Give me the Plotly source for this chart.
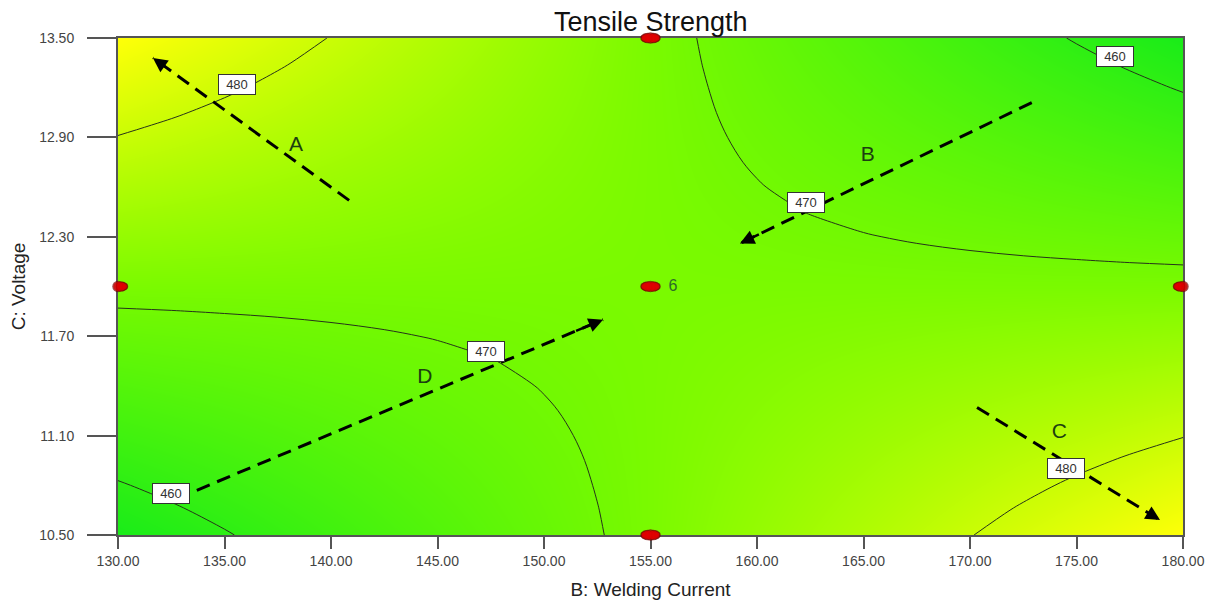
import plotly.graph_objects as go

# ---------------- data ----------------
B_vals = [130, 132.5, 135, 137.5, 140, 142.5, 145, 147.5, 150, 152.5, 155,
          157.5, 160, 162.5, 165, 167.5, 170, 172.5, 175, 177.5, 180]
C_vals = [10.5, 10.65, 10.8, 10.95, 11.1, 11.25, 11.4, 11.55, 11.7, 11.85, 12.0,
          12.15, 12.3, 12.45, 12.6, 12.75, 12.9, 13.05, 13.2, 13.35, 13.5]

# Tensile strength (rows follow C_vals, columns follow B_vals)
strength = [
    [456.85, 458.29, 459.73, 461.17, 462.61, 464.05, 465.49, 466.93, 468.37, 469.81, 471.25, 472.69, 474.13, 475.57, 477.01, 478.45, 479.89, 481.33, 482.77, 484.21, 485.65],
    [458.29, 459.59, 460.88, 462.18, 463.47, 464.77, 466.07, 467.36, 468.66, 469.95, 471.25, 472.55, 473.84, 475.14, 476.43, 477.73, 479.03, 480.32, 481.62, 482.91, 484.21],
    [459.73, 460.88, 462.03, 463.19, 464.34, 465.49, 466.64, 467.79, 468.95, 470.10, 471.25, 472.40, 473.55, 474.71, 475.86, 477.01, 478.16, 479.31, 480.47, 481.62, 482.77],
    [461.17, 462.18, 463.19, 464.19, 465.20, 466.21, 467.22, 468.23, 469.23, 470.24, 471.25, 472.26, 473.27, 474.27, 475.28, 476.29, 477.30, 478.31, 479.31, 480.32, 481.33],
    [462.61, 463.47, 464.34, 465.20, 466.07, 466.93, 467.79, 468.66, 469.52, 470.39, 471.25, 472.11, 472.98, 473.84, 474.71, 475.57, 476.43, 477.30, 478.16, 479.03, 479.89],
    [464.05, 464.77, 465.49, 466.21, 466.93, 467.65, 468.37, 469.09, 469.81, 470.53, 471.25, 471.97, 472.69, 473.41, 474.13, 474.85, 475.57, 476.29, 477.01, 477.73, 478.45],
    [465.49, 466.07, 466.64, 467.22, 467.79, 468.37, 468.95, 469.52, 470.10, 470.67, 471.25, 471.83, 472.40, 472.98, 473.55, 474.13, 474.71, 475.28, 475.86, 476.43, 477.01],
    [466.93, 467.36, 467.79, 468.23, 468.66, 469.09, 469.52, 469.95, 470.39, 470.82, 471.25, 471.68, 472.11, 472.55, 472.98, 473.41, 473.84, 474.27, 474.71, 475.14, 475.57],
    [468.37, 468.66, 468.95, 469.23, 469.52, 469.81, 470.10, 470.39, 470.67, 470.96, 471.25, 471.54, 471.83, 472.11, 472.40, 472.69, 472.98, 473.27, 473.55, 473.84, 474.13],
    [469.81, 469.95, 470.10, 470.24, 470.39, 470.53, 470.67, 470.82, 470.96, 471.11, 471.25, 471.39, 471.54, 471.68, 471.83, 471.97, 472.11, 472.26, 472.40, 472.55, 472.69],
    [471.25, 471.25, 471.25, 471.25, 471.25, 471.25, 471.25, 471.25, 471.25, 471.25, 471.25, 471.25, 471.25, 471.25, 471.25, 471.25, 471.25, 471.25, 471.25, 471.25, 471.25],
    [472.69, 472.55, 472.40, 472.26, 472.11, 471.97, 471.83, 471.68, 471.54, 471.39, 471.25, 471.11, 470.96, 470.82, 470.67, 470.53, 470.39, 470.24, 470.10, 469.95, 469.81],
    [474.13, 473.84, 473.55, 473.27, 472.98, 472.69, 472.40, 472.11, 471.83, 471.54, 471.25, 470.96, 470.67, 470.39, 470.10, 469.81, 469.52, 469.23, 468.95, 468.66, 468.37],
    [475.57, 475.14, 474.71, 474.27, 473.84, 473.41, 472.98, 472.55, 472.11, 471.68, 471.25, 470.82, 470.39, 469.95, 469.52, 469.09, 468.66, 468.23, 467.79, 467.36, 466.93],
    [477.01, 476.43, 475.86, 475.28, 474.71, 474.13, 473.55, 472.98, 472.40, 471.83, 471.25, 470.67, 470.10, 469.52, 468.95, 468.37, 467.79, 467.22, 466.64, 466.07, 465.49],
    [478.45, 477.73, 477.01, 476.29, 475.57, 474.85, 474.13, 473.41, 472.69, 471.97, 471.25, 470.53, 469.81, 469.09, 468.37, 467.65, 466.93, 466.21, 465.49, 464.77, 464.05],
    [479.89, 479.03, 478.16, 477.30, 476.43, 475.57, 474.71, 473.84, 472.98, 472.11, 471.25, 470.39, 469.52, 468.66, 467.79, 466.93, 466.07, 465.20, 464.34, 463.47, 462.61],
    [481.33, 480.32, 479.31, 478.31, 477.30, 476.29, 475.28, 474.27, 473.27, 472.26, 471.25, 470.24, 469.23, 468.23, 467.22, 466.21, 465.20, 464.19, 463.19, 462.18, 461.17],
    [482.77, 481.62, 480.47, 479.31, 478.16, 477.01, 475.86, 474.71, 473.55, 472.40, 471.25, 470.10, 468.95, 467.79, 466.64, 465.49, 464.34, 463.19, 462.03, 460.88, 459.73],
    [484.21, 482.91, 481.62, 480.32, 479.03, 477.73, 476.43, 475.14, 473.84, 472.55, 471.25, 469.95, 468.66, 467.36, 466.07, 464.77, 463.47, 462.18, 460.88, 459.59, 458.29],
    [485.65, 484.21, 482.77, 481.33, 479.89, 478.45, 477.01, 475.57, 474.13, 472.69, 471.25, 469.81, 468.37, 466.93, 465.49, 464.05, 462.61, 461.17, 459.73, 458.29, 456.85],
]

contour_levels = [460, 470, 480]

# contour labels
clabel_val = [480, 460, 470, 470, 460, 480]
clabel_B = [135.6, 176.8, 162.3, 147.3, 132.5, 174.5]
clabel_C = [13.22, 13.39, 12.51, 11.61, 10.75, 10.90]

# design points
design_B = [130, 155, 155, 155, 180]
design_C = [12.0, 13.5, 12.0, 10.5, 12.0]
center_count = "6"

# dashed arrows
arrow_names = ["A", "B", "C", "D"]
arrow_tail_B = [140.85, 172.9, 170.33, 133.7]
arrow_tail_C = [12.52, 13.11, 11.27, 10.77]
arrow_head_B = [131.64, 159.2, 178.92, 152.77]
arrow_head_C = [13.38, 12.26, 10.59, 11.80]
arrow_label_B = [138.36, 165.2, 174.2, 144.4]
arrow_label_C = [12.85, 12.79, 11.12, 11.45]

x_ticks = [130, 135, 140, 145, 150, 155, 160, 165, 170, 175, 180]
y_ticks = [10.5, 11.1, 11.7, 12.3, 12.9, 13.5]

# ---------------- style ----------------
FONT = "Arial, Liberation Sans, sans-serif"
PAGE_OFF = 8                      # default body margin of the page
W, H = 1213 - PAGE_OFF, 605 - PAGE_OFF
ML, MR, MT, MB = 118 - PAGE_OFF, 30, 38 - PAGE_OFF, 70
px_per_B = (W - ML - MR) / (x_ticks[-1] - x_ticks[0])
plot_h = H - MT - MB

fig = go.Figure()

fig.add_trace(go.Heatmap(
    x=B_vals, y=C_vals, z=strength, zsmooth="best",
    zmin=456.85, zmax=485.65,
    colorscale=[[0, "rgb(25,236,25)"], [0.5, "rgb(122,250,0)"], [1, "rgb(255,255,8)"]],
    showscale=False, hoverinfo="skip",
))

fig.add_trace(go.Contour(
    x=B_vals, y=C_vals, z=strength,
    contours=dict(start=contour_levels[0], end=contour_levels[-1],
                  size=contour_levels[1] - contour_levels[0], coloring="none"),
    line=dict(color="#26331a", width=1, smoothing=1.0),
    showscale=False, hoverinfo="skip",
))

# dashed arrow shafts
for i in range(len(arrow_names)):
    fig.add_trace(go.Scatter(
        x=[arrow_tail_B[i], arrow_head_B[i]], y=[arrow_tail_C[i], arrow_head_C[i]],
        mode="lines", line=dict(color="black", width=3, dash="14px,8px"),
        hoverinfo="skip", showlegend=False,
    ))

# arrow letters
fig.add_trace(go.Scatter(
    x=arrow_label_B, y=arrow_label_C, text=arrow_names, mode="text",
    textfont=dict(family=FONT, size=21, color="#1c3f10"),
    hoverinfo="skip", showlegend=False,
))

# design point ellipses (built from several overlapping circles)
offs_px = [-6.75, -5, -3, 0, 3, 5, 6.75]
rad_px = [2.25, 3.45, 4.15, 4.5, 4.15, 3.45, 2.25]
for color, extra in (("#7a0000", 1.2), ("#e30000", 0.0)):
    xs, ys, ss = [], [], []
    for b, c in zip(design_B, design_C):
        for o, r in zip(offs_px, rad_px):
            xs.append(b + o / px_per_B)
            ys.append(c)
            ss.append(2 * r + 2 * extra)
    fig.add_trace(go.Scatter(
        x=xs, y=ys, mode="markers",
        marker=dict(size=ss, color=color, line=dict(width=0)),
        cliponaxis=False, hoverinfo="skip", showlegend=False,
    ))

# count at centre point
fig.add_trace(go.Scatter(
    x=[design_B[2] + 0.85], y=[design_C[2]], text=[center_count], mode="text",
    textposition="middle right",
    textfont=dict(family=FONT, size=16, color="#2e6a2a"),
    cliponaxis=False, hoverinfo="skip", showlegend=False,
))

annotations = []
# contour label boxes
for v, b, c in zip(clabel_val, clabel_B, clabel_C):
    annotations.append(dict(
        x=b, y=c, xref="x", yref="y", text=str(v), showarrow=False,
        font=dict(family=FONT, size=13, color="#333333"),
        bgcolor="white", bordercolor="#333333", borderwidth=1, borderpad=2,
        width=32, height=15,
    ))
# arrow heads
for i in range(len(arrow_names)):
    k = 0.07
    annotations.append(dict(
        x=arrow_head_B[i], y=arrow_head_C[i], xref="x", yref="y",
        ax=arrow_head_B[i] + k * (arrow_tail_B[i] - arrow_head_B[i]),
        ay=arrow_head_C[i] + k * (arrow_tail_C[i] - arrow_head_C[i]),
        axref="x", ayref="y", text="", showarrow=True,
        arrowhead=2, arrowsize=1.15, arrowwidth=2.5, arrowcolor="black", standoff=0,
    ))
# title, kept fully inside the figure
annotations.append(dict(
    x=0.5, y=1 + 16.3 / plot_h, xref="paper", yref="paper",
    text="Tensile Strength", showarrow=False, yanchor="middle",
    font=dict(family=FONT, size=27, color="#111111"),
))

fig.update_layout(
    width=W, height=H,
    margin=dict(l=ML, r=MR, t=MT, b=MB),
    paper_bgcolor="white", plot_bgcolor="white",
    showlegend=False,
    annotations=annotations,
    xaxis=dict(
        range=[x_ticks[0], x_ticks[-1]], tickvals=x_ticks, tickformat=".2f",
        ticks="outside", ticklen=12, tickwidth=1.5, tickcolor="#555555",
        showline=True, linecolor="#555555", linewidth=2, mirror=True,
        showgrid=False, zeroline=False, layer="below traces",
        tickfont=dict(family=FONT, size=14, color="#444444"),
        title=dict(text="B: Welding Current", standoff=15,
                   font=dict(family=FONT, size=19, color="#222222")),
        automargin=False,
    ),
    yaxis=dict(
        range=[y_ticks[0], y_ticks[-1]], tickvals=y_ticks, tickformat=".2f",
        ticks="outside", ticklen=29, tickwidth=1.5, tickcolor="#555555",
        ticklabelstandoff=10,
        showline=True, linecolor="#555555", linewidth=2, mirror=True,
        showgrid=False, zeroline=False, layer="below traces",
        tickfont=dict(family=FONT, size=14, color="#444444"),
        title=dict(text="C: Voltage", standoff=12,
                   font=dict(family=FONT, size=19, color="#222222")),
        automargin=False,
    ),
)

fig.write_html("out.html")
